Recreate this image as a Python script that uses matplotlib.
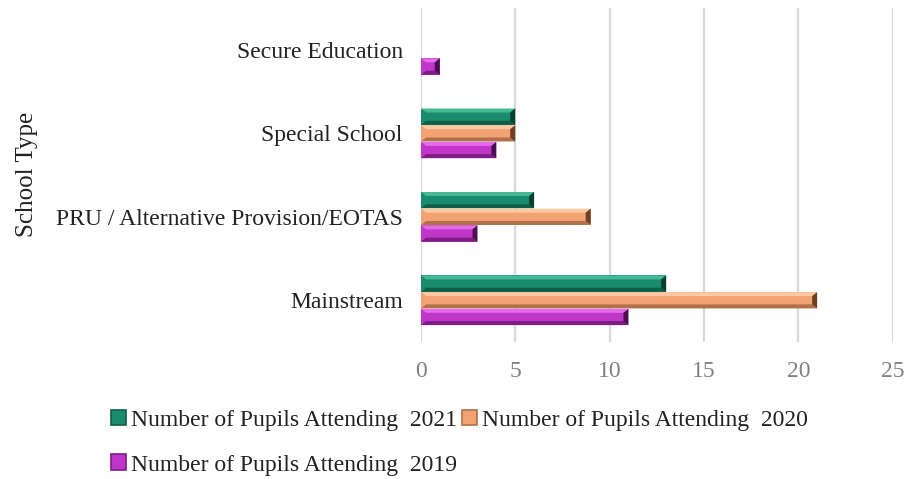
import numpy as np
import matplotlib
matplotlib.use("Agg")
from matplotlib import pyplot as plt
from matplotlib.patches import Polygon, Patch

# data
school_types = ["Mainstream", "PRU / Alternative Provision/EOTAS",
                "Special School", "Secure Education"]
pupils_2021 = [13, 6, 5, 0]
pupils_2020 = [21, 9, 5, 0]
pupils_2019 = [11, 3, 4, 1]
series_labels = ["Number of Pupils Attending  2021",
                 "Number of Pupils Attending  2020",
                 "Number of Pupils Attending  2019"]

# (main, light, dark, darkest) for each series
palettes = [
    ("#188c6c", "#45b894", "#0f5e48", "#0a3f30"),
    ("#f3a273", "#fcc8a2", "#b0704a", "#6e3f22"),
    ("#c036c8", "#e46aec", "#7e1c86", "#4a0f50"),
]

plt.rcParams['font.family'] = ['Liberation Serif', 'DejaVu Serif']

W, H = 909, 479
fig = plt.figure(figsize=(W / 100, H / 100), dpi=100)
ax = fig.add_axes([0.463, 0.286, 0.519, 0.697])

xmax = 25
ax.set_xlim(0, xmax)
ax.set_ylim(-0.5, len(school_types) - 0.5)

bar_h = 0.195
offsets = [0.2, 0.0, -0.2]
ypos = np.arange(len(school_types))

# bevel sizes in data units (~5 px wide, ~4 px tall)
ax_w_px = 0.519 * W
ax_h_px = 0.697 * H
bx = 5 / ax_w_px * xmax
by = 4 / ax_h_px * len(school_types)


def bevel_bar(y, v, cols):
    main, light, dark, darkest = cols
    if v <= 0:
        return
    x0, x1 = 0, v
    yb, yt = y - bar_h / 2, y + bar_h / 2
    ex = min(bx, v / 2)
    ax.barh(y, v, height=bar_h, color=main, zorder=2)
    facets = [
        ([(x0, yt), (x1, yt), (x1 - ex, yt - by), (x0 + ex, yt - by)], light),
        ([(x0, yb), (x1, yb), (x1 - ex, yb + by), (x0 + ex, yb + by)], dark),
        ([(x1, yt), (x1, yb), (x1 - ex, yb + by), (x1 - ex, yt - by)], darkest),
        ([(x0, yt), (x0, yb), (x0 + ex, yb + by), (x0 + ex, yt - by)], main),
    ]
    for pts, c in facets:
        ax.add_patch(Polygon(pts, closed=True, facecolor=c, edgecolor='none', zorder=3))


for vals, off, cols in zip([pupils_2021, pupils_2020, pupils_2019], offsets, palettes):
    for y, v in zip(ypos, vals):
        bevel_bar(y + off, v, cols)

ax.set_xticks(np.arange(0, xmax + 1, 5))
ax.set_yticks(ypos)
ax.set_yticklabels(school_types)
ax.tick_params(axis='y', length=0, pad=13, labelsize=17, labelcolor='#222222')
ax.tick_params(axis='x', length=0, pad=14, labelsize=17, labelcolor='#808080')
ax.grid(axis='x', color='#d9d9d9', linewidth=1.6, zorder=0)
ax.set_axisbelow(True)
for s in ax.spines.values():
    s.set_visible(False)

fig.text(0.03, 0.635, "School Type", rotation=90, ha='center', va='center',
         fontsize=18, color='#222222')

# legend fills column-first, so order items to read 2021, 2020 / 2019
handles = [Patch(facecolor=p[0], edgecolor=p[2], linewidth=1.2) for p in palettes]
order = [0, 2, 1]
fig.legend([handles[i] for i in order], [series_labels[i] for i in order],
           ncol=2, loc='upper left',
           bbox_to_anchor=(0.122, 0.145), frameon=False, fontsize=17,
           handlelength=0.65, handleheight=0.65, handletextpad=0.2,
           columnspacing=0.2, labelspacing=1.0, borderpad=0, borderaxespad=0,
           labelcolor='#222222')

fig.savefig("out.png", dpi=100)
